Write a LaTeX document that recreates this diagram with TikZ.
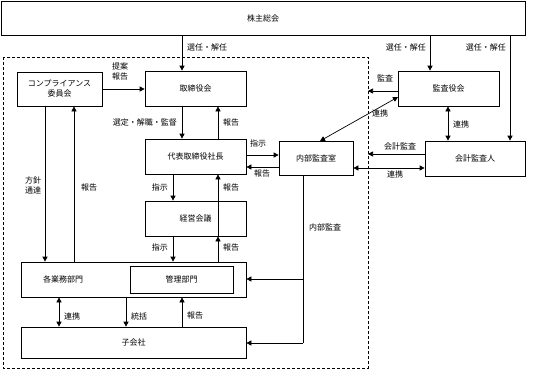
\documentclass[tikz,border=0pt]{standalone}
\usepackage{fontspec}
\setmainfont{Noto Sans CJK JP}
\usetikzlibrary{arrows.meta}
\begin{document}
\begin{tikzpicture}[x=1pt,y=-1pt,
  font=\fontsize{8}{10}\selectfont,
  box/.style={draw, line width=0.7pt, inner sep=0pt, align=center},
  ln/.style={line width=0.7pt},
  arr/.style={ln, -{Triangle[length=5pt,width=5pt]}},
  darr/.style={ln, {Triangle[length=5pt,width=5pt]}-{Triangle[length=5pt,width=5pt]}},
  lab/.style={inner sep=1pt, align=center}]
\useasboundingbox (0,0) rectangle (544,380);
% frame
\draw[ln, dashed, dash pattern=on 3pt off 2pt] (3,57) rectangle (368,368);
% boxes
\node[box, minimum width=524pt, minimum height=34pt] (kabu) at (263,18) {株主総会};
\node[box, minimum width=85pt, minimum height=34pt] (comp) at (59.5,89) {コンプライアンス\\委員会};
\node[box, minimum width=101pt, minimum height=35pt] (tori) at (195.5,88.5) {取締役会};
\node[box, minimum width=101pt, minimum height=35pt] (daihyo) at (195.5,156.5) {代表取締役社長};
\node[box, minimum width=101pt, minimum height=35pt] (keiei) at (195.5,218.5) {経営会議};
\node[box, minimum width=225pt, minimum height=35pt] (gyomu) at (133.5,279.5) {};
\node[lab] (gyomulab) at (63,279) {各業務部門};
\node[box, minimum width=103pt, minimum height=27pt] (kanri) at (181.5,279.5) {管理部門};
\node[box, minimum width=225pt, minimum height=31pt] (kogaisha) at (133.5,342.5) {子会社};
\node[box, minimum width=74pt, minimum height=34pt] (naibu) at (316,158) {内部監査室};
\node[box, minimum width=101pt, minimum height=35pt] (kansayaku) at (448.5,88.5) {監査役会};
\node[box, minimum width=100pt, minimum height=35pt] (kaikei) at (475,158.5) {会計監査人};
% helper coordinates
\coordinate (xa) at (182,0);
\coordinate (xb) at (218,0);
\coordinate (xc) at (173,0);
\coordinate (xd) at (45,0);
\coordinate (xe) at (74,0);
\coordinate (xf) at (430,0);
\coordinate (xg) at (510,0);
\coordinate (xh) at (448,0);
\coordinate (xi) at (303,0);
\coordinate (xj) at (59,0);
\coordinate (xk) at (126,0);
\coordinate (ya) at (0,155);
\coordinate (yb) at (0,167);
\coordinate (yc) at (0,91);
\coordinate (yd) at (0,154);
\coordinate (ye) at (0,168);
\coordinate (frR) at (368,0);
\coordinate (diagA) at (320,141);
\coordinate (diagB) at (398,97);
\coordinate (brA) at (303,279);
\coordinate (brB) at (303,343);
% connectors
\draw[arr] (kabu.south -| xa) -- (tori.north -| xa);
\draw[arr] (kabu.south -| xf) -- (kansayaku.north -| xf);
\draw[arr] (kabu.south -| xg) -- (kaikei.north -| xg);
\draw[arr] (comp.east) -- (comp.east -| tori.west);
\draw[arr] (tori.south -| xa) -- (daihyo.north -| xa);
\draw[arr] (daihyo.north -| xb) -- (tori.south -| xb);
\draw[arr] (daihyo.south -| xc) -- (keiei.north -| xc);
\draw[arr] (keiei.south -| xb) -- (daihyo.south -| xb);
\draw[arr] (keiei.south -| xc) -- (gyomu.north -| xc);
\draw[arr] (gyomu.north -| xb) -- (keiei.south -| xb);
\draw[arr] (comp.south -| xd) -- (gyomu.north -| xd);
\draw[arr] (gyomu.north -| xe) -- (comp.south -| xe);
\draw[arr] (daihyo.east |- ya) -- (naibu.west |- ya);
\draw[arr] (naibu.west |- yb) -- (daihyo.east |- yb);
\draw[arr] (kansayaku.west |- yc) -- (frR |- yc);
\draw[darr] (diagA) -- (diagB);
\draw[darr] (kansayaku.south -| xh) -- (kaikei.north -| xh);
\draw[arr] (kaikei.west |- yd) -- (frR |- yd);
\draw[darr] (naibu.east |- ye) -- (kaikei.west |- ye);
\draw[ln] (naibu.south -| xi) -- (brB);
\draw[arr] (brB) -- (kogaisha.east |- brB);
\draw[arr] (brA) -- (gyomu.east |- brA);
\draw[darr] (gyomu.south -| xj) -- (kogaisha.north -| xj);
\draw[arr] (gyomu.south -| xk) -- (kogaisha.north -| xk);
\draw[arr] (kogaisha.north -| xa) -- (gyomu.south -| xa);
% labels
\node[lab, anchor=west] (l1) at (186,47) {選任・解任};
\node[lab, anchor=east] (l2) at (427,47) {選任・解任};
\node[lab, anchor=east] (l3) at (507,47) {選任・解任};
\node[lab] (l4) at (120,71.5) {提案\\報告};
\node[lab, anchor=east] (l5) at (178,122) {選定・解職・監督};
\node[lab, anchor=west] (l6) at (222,122) {報告};
\node[lab, anchor=east] (l7) at (169,187) {指示};
\node[lab, anchor=west] (l8) at (222,187) {報告};
\node[lab, anchor=east] (l9) at (169,247) {指示};
\node[lab, anchor=west] (l10) at (222,247) {報告};
\node[lab] (l11) at (33,185.5) {方針\\通達};
\node[lab, anchor=west] (l12) at (80,187) {報告};
\node[lab] (l13) at (258,143) {指示};
\node[lab] (l14) at (262,173) {報告};
\node[lab] (l15) at (385,78) {監査};
\node[lab] (l16) at (380,113) {連携};
\node[lab, anchor=west] (l17) at (452,124) {連携};
\node[lab] (l18) at (400,146) {会計監査};
\node[lab] (l19) at (395,174) {連携};
\node[lab, anchor=west] (l20) at (308,227) {内部監査};
\node[lab, anchor=west] (l21) at (63,316) {連携};
\node[lab, anchor=west] (l22) at (130,316) {統括};
\node[lab, anchor=west] (l23) at (186,315) {報告};
\end{tikzpicture}
\end{document}
